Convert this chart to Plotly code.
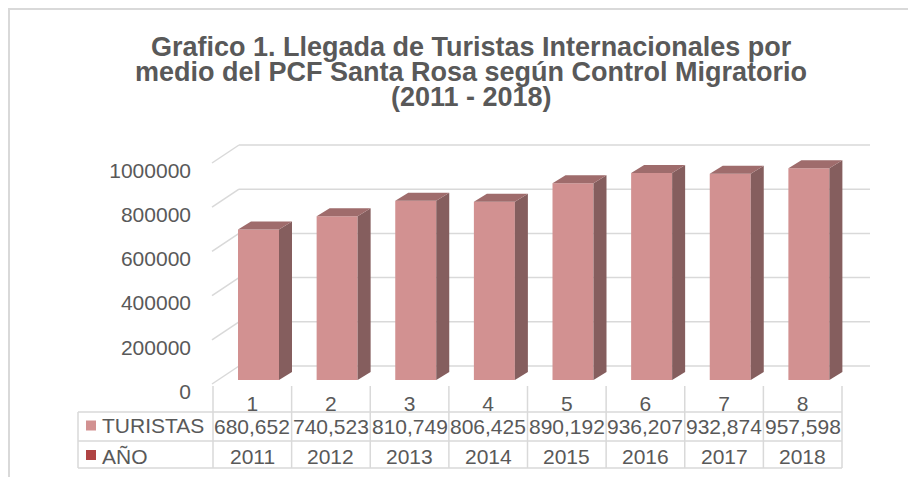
import plotly.graph_objects as go

# ---------------- data ----------------
categories = ["1", "2", "3", "4", "5", "6", "7", "8"]
turistas = [680652, 740523, 810749, 806425, 890192, 936207, 932874, 957598]
anios = ["2011", "2012", "2013", "2014", "2015", "2016", "2017", "2018"]
y_ticks = [0, 200000, 400000, 600000, 800000, 1000000]
title_lines = ["Grafico 1. Llegada de Turistas Internacionales por",
               "medio del PCF Santa Rosa según Control Migratorio",
               "(2011 - 2018)"]
series_names = ["TURISTAS", "AÑO"]

# ---------------- geometry / style ----------------
PAGE_W, PAGE_H = 916, 477
OFF = 8                                # default body margin of the html page
W, H = PAGE_W - OFF, PAGE_H - OFF
FONT = "Liberation Sans, Arial, sans-serif"
TXT = "#595959"
GRID = "#D9D9D9"
FRONT = "#D29191"
SIDE = "#855E5E"
TOP = "#9F6C6C"
KEY2 = "#B04444"

X_LEFT_PX, PXU = 213.0, 78.625       # page pixel of category boundary 0.5, px per category
BASE_PX, PXV = 380.0, 221e-6          # page pixel of bar base, px per value unit


def xd(px):
    return 0.5 + (px - X_LEFT_PX) / PXU


def yd(py):
    return (BASE_PX - py) / PXV


def xp(px):
    return (px - OFF) / W


def yp(py):
    return 1 - (py - OFF) / H


x_range = [xd(OFF), xd(PAGE_W)]
y_range = [yd(PAGE_H), yd(OFF)]

FRONT_OFF = yd(384)
BACK_OFF = yd(366)
LABEL_OFF = yd(391.5)
X_FRONT = xd(212)
X_BACK = xd(239)
X_BACK_END = xd(870)

BAR_W = 41 / PXU
BAR_OFF = xd(238) - 1
DX = 13 / PXU
DY = 8 / PXV

xs = list(range(1, len(categories) + 1))

fig = go.Figure()

# front faces
fig.add_trace(go.Bar(x=xs, y=turistas, width=BAR_W, offset=BAR_OFF,
                     marker=dict(color=FRONT, line=dict(width=0)),
                     showlegend=False, hoverinfo="skip"))

# side and top faces computed from the values
side_x, side_y, top_x, top_y = [], [], [], []
for x, v in zip(xs, turistas):
    xl = x + BAR_OFF
    xr = xl + BAR_W
    side_x += [xr, xr + DX, xr + DX, xr, xr, None]
    side_y += [0, DY, v + DY, v, 0, None]
    top_x += [xl, xl + DX, xr + DX, xr, xl, None]
    top_y += [v, v + DY, v + DY, v, v, None]

fig.add_trace(go.Scatter(x=side_x, y=side_y, mode="lines", fill="toself",
                         fillcolor=SIDE, line=dict(width=0, color=SIDE),
                         showlegend=False, hoverinfo="skip"))
fig.add_trace(go.Scatter(x=top_x, y=top_y, mode="lines", fill="toself",
                         fillcolor=TOP, line=dict(width=0, color=TOP),
                         showlegend=False, hoverinfo="skip"))

shapes = []
# wall gridlines (behind bars)
for v in y_ticks:
    shapes.append(dict(type="line", xref="x", yref="y", layer="below",
                       x0=X_FRONT, y0=v + FRONT_OFF, x1=X_BACK, y1=v + BACK_OFF,
                       line=dict(color=GRID, width=1.5)))
    shapes.append(dict(type="line", xref="x", yref="y", layer="below",
                       x0=X_BACK, y0=v + BACK_OFF, x1=X_BACK_END, y1=v + BACK_OFF,
                       line=dict(color=GRID, width=1.5)))

# data table
TBL_TOP, TBL_MID, TBL_BOT = yd(412), yd(441), yd(468)
SEP_TOP = yd(386)
X_TBL_L = xd(78)
X_TBL_R = len(categories) + 0.5
for yy in (TBL_TOP, TBL_MID, TBL_BOT):
    shapes.append(dict(type="line", xref="x", yref="y", x0=X_TBL_L, x1=X_TBL_R,
                       y0=yy, y1=yy, line=dict(color=GRID, width=1.5)))
for k in range(len(categories) + 1):
    shapes.append(dict(type="line", xref="x", yref="y", x0=k + 0.5, x1=k + 0.5,
                       y0=SEP_TOP, y1=TBL_BOT, line=dict(color=GRID, width=1.5)))
shapes.append(dict(type="line", xref="x", yref="y", x0=X_TBL_L, x1=X_TBL_L,
                   y0=TBL_TOP, y1=TBL_BOT, line=dict(color=GRID, width=1.5)))
# legend keys
for (c, cy) in ((FRONT, 425.5), (KEY2, 455)):
    shapes.append(dict(type="rect", xref="x", yref="y", x0=xd(86), x1=xd(96),
                       y0=yd(cy + 5), y1=yd(cy - 5), fillcolor=c,
                       line=dict(width=0)))
# chart frame
shapes.append(dict(type="rect", xref="paper", yref="paper",
                   x0=xp(9), x1=1.05, y0=-0.05, y1=yp(9),
                   line=dict(color=GRID, width=2)))

annotations = []
for line, py in zip(title_lines, (47, 72, 97)):
    annotations.append(dict(text="<b>" + line + "</b>", xref="paper", yref="paper",
                            x=xp(471), y=yp(py), xanchor="center", yanchor="middle",
                            showarrow=False, font=dict(family=FONT, size=27, color=TXT)))
for name, py in zip(series_names, (425.5, 456)):
    annotations.append(dict(text=name, xref="x", yref="y", x=xd(100), y=yd(py),
                            xanchor="left", yanchor="middle", showarrow=False,
                            font=dict(family=FONT, size=21, color=TXT)))
for x, v, a in zip(xs, turistas, anios):
    annotations.append(dict(text=f"{v:,}", xref="x", yref="y", x=x, y=yd(426),
                            xanchor="center", yanchor="middle", showarrow=False,
                            font=dict(family=FONT, size=21, color=TXT)))
    annotations.append(dict(text=a, xref="x", yref="y", x=x, y=yd(456),
                            xanchor="center", yanchor="middle", showarrow=False,
                            font=dict(family=FONT, size=21, color=TXT)))

fig.update_layout(
    width=W, height=H, autosize=False,
    margin=dict(l=0, r=0, t=0, b=0),
    paper_bgcolor="white", plot_bgcolor="white",
    shapes=shapes, annotations=annotations,
    xaxis=dict(range=x_range, domain=[0, 1], anchor="free", position=yp(389),
               tickmode="array", tickvals=xs, ticktext=categories,
               showgrid=False, zeroline=False, showline=False, ticks="",
               tickfont=dict(family=FONT, size=21, color=TXT)),
    yaxis=dict(range=y_range, domain=[0, 1], anchor="free", position=xp(191),
               tickmode="array", tickvals=[v + LABEL_OFF for v in y_ticks],
               ticktext=[str(v) for v in y_ticks],
               showgrid=False, zeroline=False, showline=False, ticks="",
               tickfont=dict(family=FONT, size=21, color=TXT)),
    showlegend=False,
)

fig.write_html("out.html")
